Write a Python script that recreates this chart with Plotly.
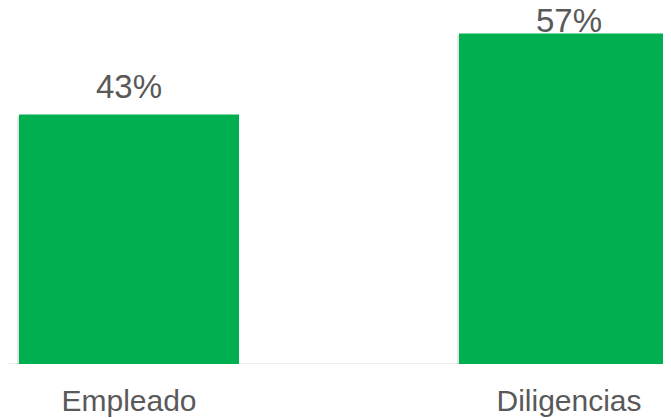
import plotly.graph_objects as go

categories = ["Empleado", "Diligencias"]
values = [43, 57]
labels = ["43%", "57%"]

FONT = "Arial, Liberation Sans, sans-serif"
label_shift = [8, -8]  # second label squeezed against the top edge, as in the source

fig = go.Figure()

# soft shadow behind bars
fig.add_trace(go.Bar(
    x=categories, y=values, width=0.5, offset=-0.254, base=-0.3,
    marker=dict(color="rgba(0,0,0,0.12)", line=dict(width=0)),
    hoverinfo="skip", showlegend=False,
))
fig.add_trace(go.Bar(
    x=categories, y=values, width=0.5,
    marker=dict(color="#00B050", line=dict(width=0)),
    showlegend=False,
))

for c, v, t, s in zip(categories, values, labels, label_shift):
    fig.add_annotation(x=c, y=v, text=t, showarrow=False, yanchor="bottom",
                       yshift=s, font=dict(family=FONT, size=33, color="#595959"))

# page body adds an 8px margin, so the figure is shrunk by that much
fig.update_layout(
    width=663, height=410,
    margin=dict(l=0, r=0, t=0, b=54),
    paper_bgcolor="white", plot_bgcolor="white",
    barmode="overlay",
    xaxis=dict(range=[-0.275, 1.2318], showgrid=False, zeroline=False, showline=False,
               tickfont=dict(family=FONT, size=30, color="#595959"),
               ticks="", ticklabelstandoff=16, automargin=False),
    yaxis=dict(range=[0, 61.38], visible=False, automargin=False),
    shapes=[dict(type="line", xref="paper", yref="y", x0=0, x1=1, y0=0, y1=0,
                 line=dict(color="#D9D9D9", width=1), layer="below")],
)

fig.write_html("out.html")
